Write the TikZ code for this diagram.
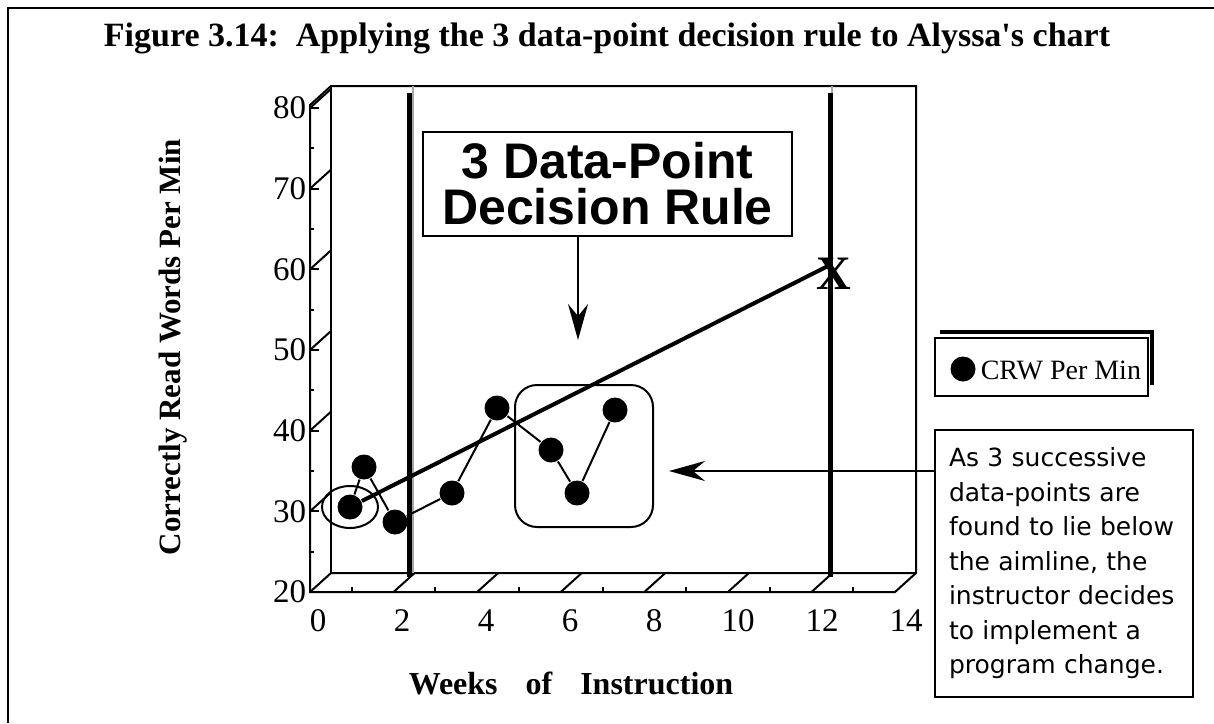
\documentclass[tikz,border=0pt]{standalone}
\usepackage{fontspec}
\setmainfont{Liberation Serif}
\newfontfamily\helv{Liberation Sans}
\newfontfamily\verd{DejaVu Sans}
\usetikzlibrary{arrows.meta}

\begin{document}
\begin{tikzpicture}[thick, x=0.5pt, y=-0.5pt,
	ponto/.style={circle, fill, inner sep=0pt, minimum size=12.5pt},
	seta/.style={-{Stealth[length=18pt, width=10pt, inset=6pt]}, line width=1pt},
	rotulo/.style={font=\fontsize{16.5}{19}\selectfont}]
	\useasboundingbox (0,0) rectangle (1214,723);
	% A moldura e o titulo
		\draw[line width=1.3pt] (8,723) -- (8,8) -- (1214,8);
		\node[font=\bfseries\fontsize{17}{20}\selectfont] (titulo) at (607,38) {Figure 3.14:\ \ Applying the 3 data-point decision rule to Alyssa\textquotesingle s chart};

	% A caixa dos eixos, em perspectiva
		\draw[line width=1pt] (331,86) -- (310,105) -- (310,592) -- (895,592) -- (916,573) -- (916,86) -- cycle;
		\draw[line width=1pt] (310,592) -- (331,573) -- (916,573);
		\draw[line width=1pt] (331,573) -- (331,86);
		\foreach \v in {30,40,...,80} {
			\draw[line width=1pt] (310,{592-(\v-20)*8.067}) -- ++(9,0);
			\draw[line width=1pt] (310,{592-(\v-20)*8.067}) -- ++(21,-19);
		}
		\foreach \v in {25,35,...,75}
			\draw[line width=1pt] (310,{592-(\v-20)*8.067}) -- ++(4,0);
		\foreach \v in {20,30,...,80}
			\node[rotulo, anchor=east, inner sep=0pt] (ly\v) at (307,{592-(\v-20)*8.067}) {\v};
		\foreach \k in {2,4,...,12}
			\draw[line width=1pt] ({310+\k*41.79},592) -- ++(21,-19);
		\foreach \k in {1,3,...,13}
			\draw[line width=1pt] ({310+\k*41.79},592) -- ++(0,-5);
		\foreach \k in {0,2,...,14}
			\node[rotulo] (lx\k) at ({318+\k*42},621) {\k};
		\node[rotate=90, font=\bfseries\fontsize{15.5}{18}\selectfont] (eixoy) at (173,347) {Correctly Read Words Per Min};
		\node[font=\bfseries\fontsize{16}{19}\selectfont] (eixox) at (571,683) {Weeks\hspace{14pt}of\hspace{14pt}Instruction};

	% As linhas de fase
		\draw[gray!70, line width=1.3pt] (413,86) -- (413,573);
		\draw[line width=2.2pt] (409.5,93) -- (409.5,577);
		\draw[gray!70, line width=1.3pt] (832,86) -- (832,573);
		\draw[line width=2.5pt] (830.5,93) -- (830.5,577);

	% Os dados e a linha de meta
		\node[ponto] (p1) at (350,507) {};
		\node[ponto] (p2) at (364,467) {};
		\node[ponto] (p3) at (395,522) {};
		\node[ponto] (p4) at (452,493) {};
		\node[ponto] (p5) at (497,408) {};
		\node[ponto] (p6) at (551,450) {};
		\node[ponto] (p7) at (577,493) {};
		\node[ponto] (p8) at (615,410) {};
		\draw[line width=1pt] (p1) -- (p2) -- (p3) -- (p4) -- (p5) -- (p6) -- (p7) -- (p8);
		\coordinate (alvo) at (830,265);
		\draw[line width=2pt] (p1) -- (alvo);
		\node[font=\bfseries\fontsize{24}{27}\selectfont, inner sep=0pt] (xis) at (834,274) {X};
		\draw[line width=1pt] (p1) ellipse [x radius=28, y radius=21];
		\node[draw, rounded corners=11pt, line width=1pt, minimum width=69pt, minimum height=71pt] (grupo) at (584,456) {};

	% As caixas de texto e as setas
		\node[draw, line width=1pt, minimum width=184.5pt, minimum height=52pt, align=center, font=\helv\bfseries\fontsize{25}{23}\selectfont] (regra) at (607.5,184) {3 Data-Point\\Decision Rule};
		\coordinate (ponta1) at (578,340);
		\draw[seta] (ponta1 |- regra.south) -- (ponta1);
		\node[draw, line width=1pt, minimum width=129pt, minimum height=133.5pt, text width=115pt, inner xsep=0pt, align=left, font=\verd\fontsize{12.5}{17.25}\selectfont] (nota) at (1064,563.5) {As 3 successive\\data-points are\\found to lie below\\the aimline, the\\instructor decides\\to implement a\\program change.};
		\coordinate (ponta2) at (669,471);
		\draw[seta] (ponta2 -| nota.west) -- (ponta2);

	% A legenda
		\draw[line width=2pt] (940,332) -- (1152,332) -- (1152,385);
		\node[draw, line width=1pt, minimum width=106.5pt, minimum height=29pt] (legenda) at (1041.5,367) {};
		\node[ponto] (legponto) at (963,369) {};
		\node[anchor=west, inner sep=0pt, font=\fontsize{14}{17}\selectfont] (legtexto) at (980,370) {CRW Per Min};
\end{tikzpicture}
\end{document}
